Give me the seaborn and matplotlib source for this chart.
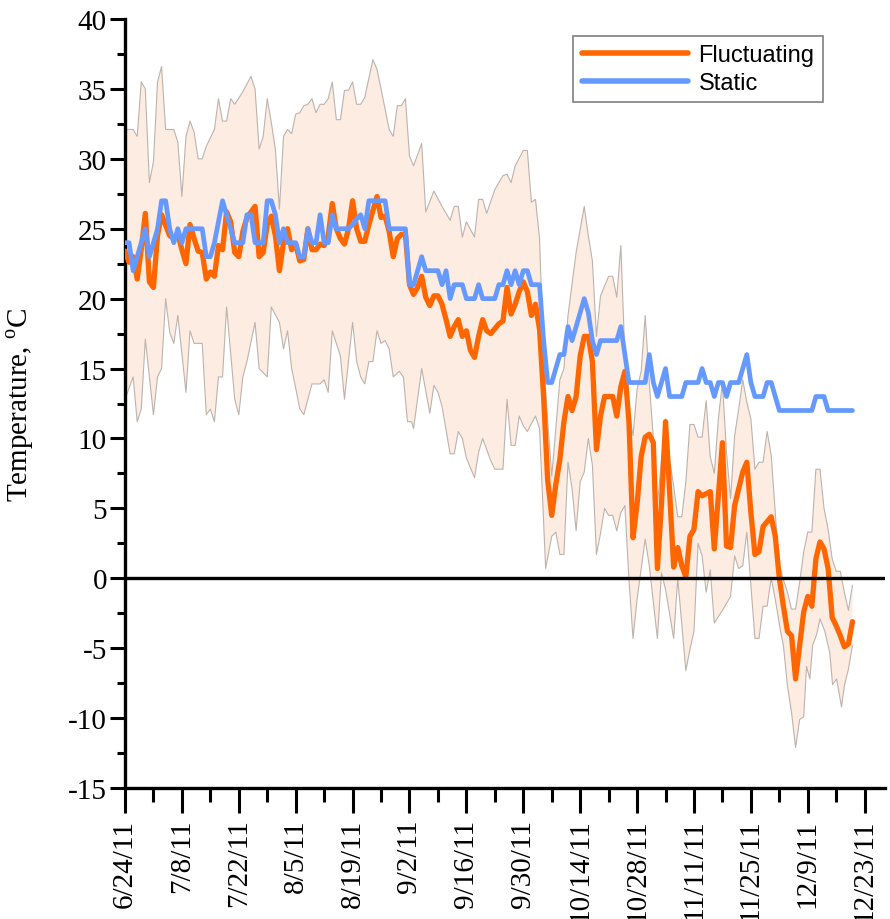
import numpy as np
import pandas as pd
import matplotlib
matplotlib.use("Agg")
import matplotlib.pyplot as plt
import matplotlib.dates as mdates
import seaborn as sns

# ---------------- data ----------------
start_date = pd.Timestamp("2011-06-24")
tick_labels = ["6/24/11", "7/8/11", "7/22/11", "8/5/11", "8/19/11", "9/2/11",
               "9/16/11", "9/30/11", "10/14/11", "10/28/11", "11/11/11",
               "11/25/11", "12/9/11", "12/23/11"]

# Fluctuating treatment: mean (days after 6/24/11)
fluct_days = [0, 1, 2, 3, 4, 5, 6, 7, 8, 9, 11, 12, 13, 14, 15, 16, 17, 18, 19, 20,
              21, 22, 23, 24, 25, 26, 27, 28, 29, 30, 32, 33, 34, 35, 36, 37, 38, 39, 40, 41,
              42, 43, 44, 45, 46, 47, 48, 49, 50, 51, 52, 53, 54, 55, 56, 57, 58, 59, 60, 61,
              62, 63, 64, 65, 66, 67, 68, 69, 70, 71, 72, 73, 74, 75, 76, 77, 78, 79, 80, 81,
              82, 83, 84, 85, 86, 87, 88, 89, 90, 92, 93, 94, 95, 96, 97, 98, 99, 100, 101, 102,
              103, 104, 105, 106, 107, 108, 109, 110, 111, 112, 113, 114, 115, 116, 117, 118, 119, 120, 121, 122,
              123, 124, 125, 126, 127, 128, 129, 130, 131, 132, 133, 133.7, 135, 136, 137, 138, 139, 140, 141, 142,
              144, 145, 147, 148, 149, 150, 152, 153, 154, 155, 156, 157, 159, 160, 161, 162, 163, 164, 165, 166,
              167, 168, 169, 170, 171, 172, 173, 174, 175, 176, 177, 178, 179]
fluct_mean = [23.4, 22.6, 23.0, 21.4, 23.5, 26.1, 21.2, 20.8, 24.5, 26.0, 24.5, 24.3, 24.6, 23.5, 22.5, 25.3, 24.3, 23.4, 23.3, 21.4,
              21.9, 21.6, 23.8, 23.5, 26.2, 25.5, 23.3, 23.0, 24.8, 25.8, 26.6, 23.0, 23.3, 25.3, 25.9, 24.5, 22.0, 24.0, 25.0, 23.5,
              23.9, 22.7, 22.8, 25.0, 23.5, 23.5, 23.9, 23.8, 24.5, 26.8, 25.0, 24.3, 23.9, 25.0, 27.0, 25.0, 24.1, 24.1, 25.3, 26.3,
              27.3, 25.8, 25.9, 24.8, 23.0, 24.3, 24.6, 24.6, 21.0, 20.3, 20.8, 21.6, 20.1, 19.5, 20.2, 20.2, 19.6, 18.5, 17.3, 18.0,
              18.5, 17.3, 17.7, 16.3, 15.8, 17.3, 18.5, 17.7, 17.5, 18.2, 18.4, 20.8, 18.9, 19.6, 20.5, 21.2, 20.5, 18.8, 19.6, 17.8,
              13.0, 7.0, 4.5, 6.7, 8.5, 11.2, 13.0, 12.0, 13.0, 15.9, 17.3, 17.3, 15.5, 9.2, 11.6, 13.0, 13.0, 13.0, 11.6, 13.7,
              14.8, 11.2, 2.9, 5.3, 8.7, 10.1, 10.3, 9.7, 0.7, 5.3, 11.2, 7.8, 0.8, 2.2, 0.9, 0.1, 3.0, 3.5, 6.2, 5.9,
              6.2, 2.1, 9.7, 2.3, 2.2, 5.2, 7.6, 8.3, 4.7, 1.7, 1.9, 3.7, 4.4, 3.0, 0.0, -2.0, -3.8, -4.1, -7.2, -4.8,
              -2.4, -1.3, -2.0, 1.4, 2.6, 2.1, 0.7, -2.8, -3.4, -4.1, -4.9, -4.7, -3.1]

# Static treatment (daily)
static_days = list(range(180))
static_temp = [24, 24, 22, 23, 24, 25, 23, 24, 25, 27,
               27, 25, 24, 25, 24, 25, 25, 25, 25, 25,
               23, 23, 24, 25.5, 27, 26, 25, 24, 24, 24,
               26, 26, 24, 24, 24, 27, 27, 26, 24, 25,
               24, 24, 24, 23, 23, 25, 24, 24, 26, 24,
               24, 26, 25, 25, 25, 25, 25.3, 25.7, 26, 25,
               27, 27, 27, 27, 27, 25, 25, 25, 25, 25,
               21, 21, 22, 23, 22, 22, 22, 22, 21, 22,
               20, 21, 21, 21, 20, 20, 20, 21, 20, 20,
               20, 20, 21, 21, 22, 21, 22, 21, 22, 22,
               21, 21, 21, 17, 14, 14, 15, 16, 16, 18,
               17, 18, 19, 20, 19, 17, 16, 17, 17, 17,
               17, 17, 18, 16, 14, 14, 14, 14, 14, 16,
               14, 13, 14, 15, 13, 13, 13, 13, 14, 14,
               14, 14, 15, 14, 14, 13, 14, 14, 13, 14,
               14, 14, 15, 16, 14, 13, 13, 13, 14, 14,
               13, 12, 12, 12, 12, 12, 12, 12, 12, 12,
               13, 13, 13, 12, 12, 12, 12, 12, 12, 12]

# Fluctuating treatment: daily maximum (upper edge of band)
upper_days = [0, 2, 3, 4, 5, 6, 7, 8, 9, 10, 12, 13, 14, 15, 16, 17, 18, 19, 20, 22,
              23, 24, 25, 26, 27, 29, 31, 32, 33, 34, 35, 36, 37, 38, 39, 40, 41, 42, 43, 44,
              45, 46, 47, 48, 49, 50, 51, 52, 53, 54, 55, 56, 57, 58, 59, 61, 62, 63, 65, 66,
              67, 68, 69, 70, 71, 73, 74, 76, 78, 80, 81, 82, 83, 84, 86, 87, 88, 89, 91, 93,
              94, 95, 96, 98, 99, 100, 101, 102, 103, 104, 105, 106, 107, 108, 109, 111, 113, 114, 115, 116,
              117, 118, 119, 120, 121, 122, 123, 124, 125, 126, 127, 128, 129, 130, 131, 132, 133, 134, 135, 136,
              137, 138, 139, 140, 141, 142, 143, 144, 145, 146, 147, 148, 149, 150, 151, 152, 153, 154, 155, 156,
              157, 158, 159, 160, 161, 162, 163, 164, 165, 166, 167, 168, 169, 170, 171, 172, 173, 174, 175, 176,
              177, 178, 179]
upper_temp = [32.1, 32.1, 31.6, 35.5, 35.0, 28.3, 29.8, 35.5, 36.6, 32.1, 32.1, 31.2, 27.3, 31.6, 32.7, 31.9, 30.0, 30.0, 30.9, 32.1,
              34.3, 32.7, 32.7, 34.3, 33.9, 34.8, 35.9, 35.0, 30.7, 31.6, 34.3, 32.6, 30.7, 26.4, 31.6, 32.1, 31.8, 33.2, 33.3, 33.8,
              33.9, 34.3, 33.3, 33.9, 33.9, 34.3, 35.5, 32.8, 32.8, 34.9, 34.9, 35.5, 33.9, 33.9, 34.4, 37.1, 36.4, 35.0, 32.1, 31.6,
              33.8, 33.8, 34.3, 30.2, 29.5, 31.1, 26.2, 27.7, 26.6, 25.6, 26.6, 26.6, 24.4, 25.5, 24.4, 27.1, 27.1, 26.1, 27.8, 28.8,
              28.9, 28.3, 29.5, 30.6, 30.6, 26.9, 27.1, 24.3, 15.5, 11.2, 7.3, 10.7, 14.2, 15.0, 18.8, 23.3, 26.6, 24.5, 22.7, 17.3,
              20.2, 20.9, 21.6, 21.6, 20.1, 23.8, 15.9, 12.0, 10.2, 13.5, 14.8, 18.8, 14.0, 10.0, 5.2, 8.5, 11.4, 8.5, 6.6, 4.4,
              4.4, 6.9, 11.0, 11.0, 10.1, 10.1, 12.7, 8.7, 7.5, 11.4, 14.0, 9.0, 5.7, 10.2, 12.1, 14.2, 12.6, 11.4, 7.8, 8.3,
              8.3, 10.5, 8.8, 4.7, 0.9, -0.1, -1.0, -2.2, -2.2, -0.3, 1.9, 3.3, 3.3, 7.8, 7.8, 5.0, 3.5, 1.4, 0.5, 0.5,
              -1.0, -2.3, -0.5]

# Fluctuating treatment: daily minimum (lower edge of band)
lower_days = [0, 2, 3, 4, 5, 7, 8, 9, 10, 11, 12, 13, 15, 16, 17, 19, 20, 21, 22, 23,
              24, 25, 27, 28, 29, 30, 32, 33, 35, 36, 38, 39, 40, 41, 42, 43, 44, 45, 46, 48,
              49, 50, 51, 53, 54, 56, 57, 58, 59, 60, 61, 62, 63, 64, 65, 66, 67.5, 68.5, 69.5, 70.5,
              71, 73, 75, 76, 77, 78, 80, 81, 82, 83, 84, 86, 87, 88, 90, 91, 93, 94, 95, 96,
              97, 98, 99, 101, 102, 103.5, 105, 106, 107, 108, 109, 110, 111, 112, 113, 114, 115, 116, 117, 118,
              119, 120, 121, 122, 123, 124, 125, 126, 128, 129, 131, 132, 133, 135, 136, 138, 139, 140, 141, 142,
              143, 144, 145, 147, 149, 150, 151, 152, 153, 154, 155, 156, 157, 158, 159, 160, 161.3, 162, 163, 164,
              165, 166, 167, 167.7, 168.5, 169.2, 170.2, 171, 172.2, 173.4, 174.1, 175.1, 176.3, 177, 178, 179]
lower_temp = [12.8, 14.4, 11.2, 12.1, 17.1, 11.7, 14.4, 15.0, 20.0, 17.6, 16.8, 18.8, 13.3, 17.7, 16.8, 16.8, 11.7, 12.1, 11.2, 14.4,
              14.4, 19.4, 12.8, 11.7, 14.4, 15.5, 18.3, 15.0, 14.4, 19.4, 18.3, 16.4, 17.7, 15.0, 13.6, 12.1, 11.7, 12.8, 13.9, 13.9,
              14.2, 13.3, 17.7, 15.9, 12.8, 18.3, 15.5, 14.4, 13.9, 15.5, 15.5, 17.7, 16.8, 17.0, 16.4, 14.4, 14.8, 14.4, 11.2, 11.2,
              10.7, 15.0, 11.8, 13.8, 13.3, 12.3, 8.9, 8.9, 10.5, 10.0, 8.6, 7.2, 9.0, 10.0, 8.4, 7.8, 7.8, 12.8, 9.5, 9.5,
              11.6, 10.9, 10.5, 11.6, 10.7, 0.7, 3.0, 3.3, 1.7, 1.7, 8.3, 6.4, 3.4, 6.9, 7.6, 10.0, 8.1, 1.7, 3.2, 5.0,
              4.5, 4.5, 3.4, 4.7, 5.2, -0.1, -4.3, -1.5, 2.8, 0.9, -4.3, 0.4, -0.8, -4.3, 0.0, -6.6, -5.1, -3.8, 2.5, 1.6,
              -1.0, 0.6, -3.2, -2.3, -1.3, 1.6, 0.7, 0.9, 3.3, -0.5, -4.3, -4.3, -2.0, -2.0, 0.0, -1.5, -3.8, -4.8, -7.7, -9.6,
              -12.1, -10.1, -9.9, -6.3, -7.2, -4.8, -4.0, -2.9, -3.8, -5.3, -7.6, -7.2, -9.2, -7.7, -6.5, -4.8]

# ---------------- style ----------------
sns.set_style("ticks")
plt.rcParams["font.family"] = ["Liberation Serif", "DejaVu Serif"]
plt.rcParams["mathtext.fontset"] = "custom"
plt.rcParams["mathtext.rm"] = "Liberation Serif"
plt.rcParams["axes.unicode_minus"] = False
plt.rcParams["text.color"] = "black"
plt.rcParams["axes.labelcolor"] = "black"
plt.rcParams["axes.edgecolor"] = "black"
plt.rcParams["xtick.color"] = "black"
plt.rcParams["ytick.color"] = "black"

ORANGE = "#FF6600"
BLUE = "#6699FF"
BAND = "#FDECE1"
BAND_EDGE = "#BDB3AE"


def to_dates(days):
    return start_date + pd.to_timedelta(np.asarray(days, dtype=float), unit="D")


fig = plt.figure(figsize=(8.9, 9.2), dpi=100)
ax = fig.add_axes([125 / 890, 1 - 789 / 920, 760 / 890, 769 / 920])

fluct_df = pd.DataFrame({"date": to_dates(fluct_days), "temp": fluct_mean})
static_df = pd.DataFrame({"date": to_dates(static_days), "temp": static_temp})

up_x = mdates.date2num(to_dates(upper_days))
lo_x = mdates.date2num(to_dates(lower_days))

sns.lineplot(data=fluct_df, x="date", y="temp", ax=ax, color=ORANGE, lw=3.8,
             label="Fluctuating", zorder=4)
sns.lineplot(data=static_df, x="date", y="temp", ax=ax, color=BLUE, lw=3.4,
             label="Static", zorder=5)

ax.fill(np.concatenate([up_x, lo_x[::-1]]),
        np.concatenate([upper_temp, lower_temp[::-1]]),
        color=BAND, lw=0, zorder=1)
ax.plot(up_x, upper_temp, color=BAND_EDGE, lw=0.8, zorder=2)
ax.plot(lo_x, lower_temp, color=BAND_EDGE, lw=0.8, zorder=2)

ax.axhline(0, color="black", lw=2.4, zorder=6)

# axes
ax.set_ylim(-15, 40)
ax.set_xlim(mdates.date2num(start_date), mdates.date2num(start_date + pd.Timedelta(days=187)))
ax.set_yticks(np.arange(-15, 41, 5))
ax.set_yticks(np.arange(-15, 40.1, 2.5), minor=True)

major_dates = pd.to_datetime(tick_labels, format="%m/%d/%y")
ax.set_xticks(mdates.date2num(major_dates))
ax.set_xticklabels(tick_labels, rotation=90, fontsize=21, color="black")
ax.set_xticks(mdates.date2num(major_dates[:-1] + pd.Timedelta(days=7)), minor=True)

ax.tick_params(axis="y", which="major", length=11, width=2.2, labelsize=21, pad=2,
               direction="out", colors="black")
ax.tick_params(axis="y", which="minor", length=6, width=2.2, direction="out", colors="black")
ax.tick_params(axis="x", which="major", length=18, width=2.2, pad=4, direction="out", colors="black")
ax.tick_params(axis="x", which="minor", length=10, width=2.2, direction="out", colors="black")

for side in ["top", "right"]:
    ax.spines[side].set_visible(False)
for side in ["left", "bottom"]:
    ax.spines[side].set_linewidth(2.4)
    ax.spines[side].set_color("black")

ax.set_xlabel("")
ax.set_ylabel(r"Temperature, $^{\mathrm{o}}$C", fontsize=21, color="black")
ax.yaxis.set_label_coords(-0.117, 0.5)

leg = ax.legend(loc="upper right", bbox_to_anchor=(0.918, 0.978), borderaxespad=0,
                frameon=True, fancybox=False, framealpha=1, edgecolor="#7F7F7F",
                prop={"family": "Liberation Sans", "size": 17},
                handlelength=4.5, handletextpad=0.45, borderpad=0.35, labelspacing=0.25)
leg.get_frame().set_linewidth(1.2)
for text in leg.get_texts():
    text.set_color("black")
for line in leg.get_lines():
    line.set_linewidth(4)

fig.savefig("out.png", dpi=100)
